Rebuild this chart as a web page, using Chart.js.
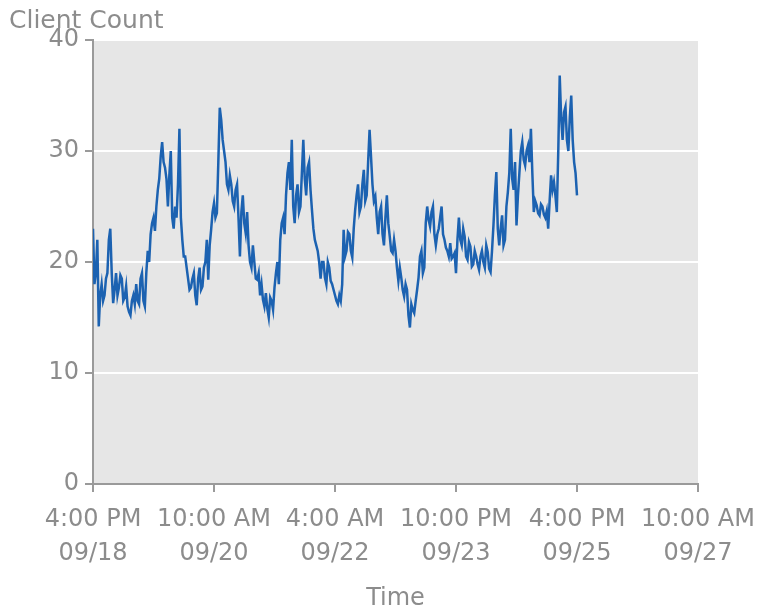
<!DOCTYPE html>
<html>
<head>
<meta charset="utf-8">
<script src="https://cdn.jsdelivr.net/npm/chart.js@4.4.0/dist/chart.umd.min.js"></script>
<style>
    html, body { margin: 0; padding: 0; background: #fff; }
    #wrap { width: 763px; height: 613px; }
</style>
</head>
<body>
<div id="wrap"><canvas id="clientChart" width="763" height="613"></canvas></div>
<script>
/* ================================
   DATA (readings from 4:00 PM 09/18, hour by hour)
================================ */
const tickTimes = ['4:00 PM', '10:00 AM', '4:00 AM', '10:00 PM', '4:00 PM', '10:00 AM'];
const tickDates = ['09/18', '09/20', '09/22', '09/23', '09/25', '09/27'];
const hoursPerTick = 42;

// reading on the hour
const countsOnHour = [
    23, 19, 14.2, 18, 17, 19, 23, 16.3, 19, 17.7,
    18.5, 16.8, 16, 15.2, 17, 18, 16.2, 19, 16, 21,
    22.5, 24, 25, 27.5, 30.8, 28.5, 25, 30, 23, 24,
    32, 22, 20.5, 18.5, 17.7, 19, 16.1, 19.5, 17.8, 20,
    18.4, 22.9, 25.3, 24.4, 33.9, 31, 29, 26.5, 27, 25,
    27, 20.5, 26, 22.6, 21.5, 19.5, 20, 18.4, 17, 16.6,
    17.2, 15, 16.5, 17.7, 20, 22, 24, 26, 29, 31,
    23.5, 27, 25, 31, 26, 29, 24.7, 22, 21, 18.5,
    20, 18, 19.5, 18, 17, 16.2, 16.5, 22.9, 21, 22.5,
    20.4, 24.7, 27, 25, 28.3, 26, 31.9, 27, 25.9, 22.5,
    25, 21.5, 26, 22.3, 20.8, 21, 18.3, 18.6, 16.9, 17.5,
    14.1, 15.7, 16.5, 18.6, 21, 19.5, 25, 23.2, 25, 21.5,
    23, 25, 22, 21, 21.7, 20.5, 19, 24, 21.5, 22.3,
    20.2, 21.4, 19.8, 20.5, 19.3, 21, 19.5, 20.9, 19.1, 23.3,
    28.1, 21.5, 24.2, 22, 26.3, 32, 26.5, 23.3, 28, 30.8,
    28.7, 30.5, 32, 24.5, 25.1, 24.2, 25, 24, 23, 27.8,
    27.2, 24.5, 36.8, 31, 34, 30, 35, 29, 26
];

// reading on the half hour (between hour i and i+1)
const countsHalfHour = [
    18, 22, 17, 16.5, 18.5, 22, 19, 17.5, 17, 18.8,
    16.5, 17.8, 15.5, 16.5, 16.2, 16.5, 18.5, 16.5, 19, 20,
    23.5, 22.8, 26.5, 29.5, 29, 27.5, 27.8, 24, 25, 27,
    24, 20.5, 19.5, 17.5, 18.5, 17, 18.5, 17.5, 19.5, 22,
    21.5, 24.5, 24, 29, 32.8, 30, 27, 27.8, 25.5, 26.5,
    24, 24.5, 23.5, 24.5, 20, 21.5, 18.5, 19, 18, 16,
    15.8, 16.8, 15.7, 19, 18, 23.5, 22.5, 28, 26.5, 25,
    26, 24.5, 28, 27.5, 28.5, 26.5, 23, 21.5, 20, 20,
    18.6, 20, 18.3, 17.5, 16.5, 17, 18, 20.5, 22.7, 21,
    23, 26, 24.5, 27, 25.5, 29, 29.5, 25.5, 24, 24.5,
    22.5, 24, 23.5, 21, 22, 19.5, 19.5, 17.5, 18, 15.2,
    16.2, 15.4, 17.5, 20.5, 19, 23.5, 23.8, 24.5, 22.5, 22.5,
    24, 22.5, 21.3, 20.5, 20.3, 20.8, 22, 22, 23, 20.5,
    21.8, 19.6, 21, 19.8, 20.5, 20, 21.5, 19.4, 21, 26,
    23, 23, 21.5, 25, 28, 27.5, 29, 26, 30, 29.2,
    30, 29, 28, 25.5, 24.4, 25.2, 24.3, 24.6, 25.5, 26.5,
    26, 30, 33, 33.5, 31, 33, 31, 28
];

const textColor = '#8c8c8c';
const axisColor = '#9a9a9a';
const fontFamily = "'DejaVu Sans', Verdana, sans-serif";

function buildPoints() {
    const pts = [];
    countsOnHour.forEach((v, i) => {
        pts.push({ x: i, y: v });
        if (i < countsHalfHour.length) pts.push({ x: i + 0.5, y: countsHalfHour[i] });
    });
    return pts;
}

/* ================================
   PLUGINS
================================ */
// gray plot background + "Client Count" label at top left
const plotBackground = {
    id: 'plotBackground',
    beforeDraw(chart) {
        const { ctx, chartArea } = chart;
        ctx.save();
        ctx.fillStyle = '#e6e6e6';
        ctx.fillRect(chartArea.left, chartArea.top, chartArea.right - chartArea.left, chartArea.bottom - chartArea.top);
        ctx.restore();
    },
    afterDraw(chart) {
        const ctx = chart.ctx;
        ctx.save();
        ctx.font = '25px ' + fontFamily;
        ctx.fillStyle = textColor;
        ctx.textBaseline = 'middle';
        ctx.textAlign = 'left';
        ctx.fillText('Client Count', 9, 21);
        ctx.restore();
    }
};

/* ================================
   CHART
================================ */
new Chart(document.getElementById('clientChart'), {
    type: 'line',
    data: {
        datasets: [{
            label: 'Client Count',
            data: buildPoints(),
            borderColor: '#1c62b1',
            borderWidth: 2.5,
            pointRadius: 0,
            tension: 0
        }]
    },
    options: {
        responsive: false,
        animation: false,
        layout: { padding: { top: 40, right: 65, left: 0, bottom: 0 } },
        plugins: {
            legend: { display: false },
            tooltip: { enabled: false }
        },
        scales: {
            x: {
                type: 'linear',
                min: 0,
                max: hoursPerTick * 5,
                // keep the plot edges where the reference has them
                afterFit: s => { s.height = 129; s.paddingLeft = 0; s.paddingRight = 0; },
                border: { color: axisColor, width: 2 },
                grid: { drawOnChartArea: false, tickColor: axisColor, tickLength: 8, lineWidth: 2 },
                ticks: {
                    stepSize: hoursPerTick,
                    autoSkip: false,
                    maxRotation: 0,
                    minRotation: 0,
                    color: textColor,
                    padding: 11,
                    font: { family: fontFamily, size: 24, lineHeight: 1.4 },
                    callback: v => {
                        const i = Math.round(v / hoursPerTick);
                        return [tickTimes[i], tickDates[i]];
                    }
                },
                title: {
                    display: true,
                    text: 'Time',
                    color: textColor,
                    padding: { top: 0, bottom: 0 },
                    font: { family: fontFamily, size: 24 }
                }
            },
            y: {
                min: 0,
                max: 40,
                afterFit: s => { s.width = 93; },
                border: { color: axisColor, width: 2 },
                grid: { color: '#ffffff', lineWidth: 2, tickColor: axisColor, tickLength: 8 },
                ticks: {
                    stepSize: 10,
                    color: textColor,
                    padding: 6,
                    font: { family: fontFamily, size: 24 }
                }
            }
        }
    },
    plugins: [plotBackground]
});
</script>
</body>
</html>
